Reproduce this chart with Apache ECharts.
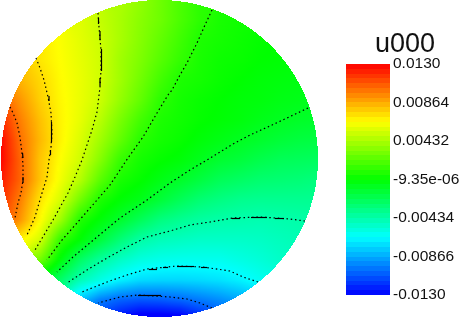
<!DOCTYPE html>
<html>
<head>
<meta charset="utf-8">
<style>html,body{margin:0;padding:0;background:#fff}#c{width:461px;height:317px}</style>
<script src="https://cdn.jsdelivr.net/npm/echarts@6/dist/echarts.min.js"></script>
</head>
<body>
<div id="c"></div>
<script>
// --- data -------------------------------------------------------------
const titleText = 'u000';
const tickValues = [0.013, 0.00864, 0.00432, -0.00000935, -0.00434, -0.00866, -0.013];
const tickLabels = ['0.0130', '0.00864', '0.00432', '-9.35e-06', '-0.00434', '-0.00866', '-0.0130'];
const colorStops = [[0, 0, 255], [0, 255, 255], [0, 255, 0], [255, 255, 0], [255, 0, 0]];
const bandCount = 48;

// field u000 in units of 1e-4, sampled on these picture coordinates
const fieldUnit = 1e-4;
const fieldX = [0, 20, 40, 60, 80, 100, 120, 140, 160, 180, 200, 220, 240, 260, 280, 300, 320];
const fieldY = [0, 20, 40, 60, 80, 100, 120, 140, 160, 180, 200, 220, 240, 260, 280, 300, 320];
const n = null;
const fieldRows = [
  [n, n, n, n, n, n, 44, 37, 28, 19, 11, n, n, n, n, n, n],
  [n, n, n, n, 57, 50, 43, 35, 28, 19, 11, 6, 4, n, n, n, n],
  [n, n, 71, 64, 58, 52, 43, 34, 25, 16, 7, 5, 3, 1, 0, n, n],
  [n, 80, 71, 65, 59, 53, 41, 32, 22, 13, 6, 3, 2, 0, -1, -2, n],
  [n, 84, 75, 66, 60, 53, 41, 29, 17, 7, 5, 2, 0, -2, -3, -4, n],
  [108, 92, 77, 67, 60, 52, 38, 25, 11, 5, 2, 0, -2, -3, -5, -6, -8],
  [122, 98, 81, 68, 59, 47, 31, 17, 7, 4, 1, -1, -3, -6, -8, -10, -11],
  [130, 102, 83, 68, 56, 41, 25, 10, 5, 2, -2, -5, -8, -11, -14, -16, -17],
  [130, 105, 80, 65, 53, 34, 14, 5, 1, -2, -7, -12, -15, -19, -22, -23, -24],
  [125, 105, 80, 62, 46, 23, 6, 1, -5, -10, -16, -22, -25, -28, -29, -30, -32],
  [120, 98, 72, 55, 29, 7, -1, -6, -14, -22, -29, -33, -36, -37, -37, -37, -37],
  [115, 92, 66, 41, 8, -2, -11, -22, -32, -37, -41, -43, -44, -45, -44, -43, -42],
  [n, 68, 54, 13, -1, -15, -30, -42, -47, -49, -51, -51, -51, -50, -48, -46, n],
  [n, n, 29, -2, -25, -40, -50, -57, -60, -61, -61, -61, -58, -55, -51, n, n],
  [n, n, -8, -26, -46, -58, -68, -74, -75, -75, -74, -72, -68, -62, -58, n, n],
  [n, n, n, n, -80, -98, -105, -108, -107, -104, -99, -94, -88, -80, n, n, n],
  [n, n, n, n, n, -115, -130, -140, -140, -138, -125, -112, n, n, n, n, n]
];

// contour lines, picture coordinates
const contour1 = [[10,107],[13,113],[17,123],[20,137],[22,153],[23,165],[23,180],[21,193],[18,203],[15,218]];
const contour2 = [[36,58],[40,68],[44,80],[48,97],[51,113],[52,133],[51,147],[49,160],[47,177],[42,193],[35,217],[27,235]];
const contour3 = [[98,13],[99,27],[101,50],[101,70],[100,87],[97,112],[92,130],[82,160],[75,177],[68,193],[53,220],[35,250]];
const contour4 = [[212,10],[205,25],[197,43],[187,63],[180,75],[172,90],[168,95],[157,113],[143,137],[128,158],[110,185],[97,200],[77,223],[62,240],[47,260]];
const contour5 = [[308,108],[287,118],[270,126],[250,135],[233,144],[207,160],[190,170],[170,183],[147,200],[120,218],[97,237],[73,257],[57,272]];
const contour6 = [[305,221],[290,219],[260,217],[233,218],[210,222],[190,225],[170,231],[147,237],[127,247],[107,258],[87,270],[67,283]];
const contour7 = [[258,282],[243,277],[230,271],[203,267],[177,266],[147,269],[127,275],[107,282],[82,292]];
const contour8 = [[212,308],[200,303],[187,299],[170,297],[138,295],[120,297],[98,303]];
const contours = [contour1, contour2, contour3, contour4, contour5, contour6, contour7, contour8];
// the longer strokes of the dashed contours, where they run along an axis
const contourStrokes = [
  [[22.5,153],[23,158]], [[23,177],[23,183]],
  [[49,96],[49,101]], [[51.5,122],[51.5,142]], [[50.5,150],[50.5,155]],
  [[98.5,18],[98.5,24]], [[100,31],[100,40]], [[101.5,49],[101.5,71]], [[100,78],[100,86]],
  [[232,218.5],[240,218.5]], [[251,217.5],[267,217.5]], [[275,218.5],[284,218.5]],
  [[177,266.5],[194,266.5]], [[201,267.5],[207,267.5]], [[149,269.5],[157,269.5]], [[163,267.5],[168,267.5]],
  [[138,295.5],[161,295.5]]
];

// --- rendering --------------------------------------------------------
const vMax = 0.013;
const diskCx = 159.5, diskCy = 158.5, diskR = 158.5;

function colorOf(v) {
  const t = Math.max(0, Math.min(1, (v + vMax) / (2 * vMax))) * (colorStops.length - 1);
  const i = Math.min(colorStops.length - 2, Math.floor(t));
  const f = t - i, a = colorStops[i], b = colorStops[i + 1];
  return 'rgb(' + [0, 1, 2].map(k => Math.round(a[k] + (b[k] - a[k]) * f)).join(',') + ')';
}
function shade(x, y) {
  const dx = fieldX[1] - fieldX[0], dy = fieldY[1] - fieldY[0];
  const i = Math.max(0, Math.min(fieldX.length - 2, Math.floor((x - fieldX[0]) / dx)));
  const j = Math.max(0, Math.min(fieldY.length - 2, Math.floor((y - fieldY[0]) / dy)));
  const fx = (x - fieldX[i]) / dx, fy = (y - fieldY[j]) / dy;
  const corners = [[fieldRows[j][i], (1 - fx) * (1 - fy)], [fieldRows[j][i + 1], fx * (1 - fy)],
                   [fieldRows[j + 1][i], (1 - fx) * fy], [fieldRows[j + 1][i + 1], fx * fy]];
  let s = 0, w = 0;
  corners.forEach(c => { if (c[0] !== null) { s += c[0] * c[1]; w += c[1]; } });
  if (w > 0) return (s / w) * fieldUnit;
  return null;
}
function renderFieldRow(params, api) {
  const y0 = api.value(0), step = fieldY[1] - fieldY[0];
  const children = [];
  for (let y = y0; y < y0 + step; y++) {
    const yc = y + 0.5, d = yc - diskCy;
    if (Math.abs(d) >= diskR) continue;
    const half = Math.sqrt(diskR * diskR - d * d);
    const xa = Math.round(diskCx - half), xb = Math.round(diskCx + half);
    if (xb <= xa) continue;
    const stops = [];
    for (let x = xa; x <= xb; x += 3) {
      const v = shade(x, yc);
      if (v !== null) stops.push({ offset: (x - xa) / (xb - xa), color: colorOf(v) });
    }
    if (!stops.length) continue;
    const p0 = api.coord([xa, y]), p1 = api.coord([xb, y + 1]);
    children.push({
      type: 'rect',
      shape: { x: p0[0], y: p0[1], width: p1[0] - p0[0], height: p1[1] - p0[1] },
      style: { fill: new echarts.graphic.LinearGradient(p0[0], 0, p1[0], 0, stops, true) },
      silent: true
    });
  }
  return { type: 'group', children: children };
}
function renderBand(params, api) {
  const a = api.value(0), b = api.value(1);
  const p0 = api.coord([0, b]), p1 = api.coord([1, a]);
  const top = Math.round(p0[1]), bottom = Math.round(p1[1]);
  return { type: 'rect', shape: { x: p0[0], y: top, width: p1[0] - p0[0], height: bottom - top },
           style: { fill: colorOf((a + b) / 2) }, silent: true };
}

const bands = [];
for (let i = 0; i < bandCount; i++) {
  bands.push([-vMax + 2 * vMax * i / bandCount, -vMax + 2 * vMax * (i + 1) / bandCount]);
}
const lineBase = { type: 'line', xAxisIndex: 0, yAxisIndex: 0, symbol: 'none', silent: true, animation: false, z: 5 };

const chart = echarts.init(document.getElementById('c'), null, { renderer: 'canvas' });
chart.setOption({
  animation: false,
  backgroundColor: '#fff',
  title: { text: titleText, left: 375, top: 31, padding: 0,
           textStyle: { fontFamily: 'Liberation Sans', fontWeight: 'normal', fontSize: 27, color: '#111' } },
  grid: [
    { left: 0, top: 0, width: 320, height: 317, outerBoundsMode: 'none' },
    { left: 346, top: 64, width: 44, height: 231, outerBoundsMode: 'none' }
  ],
  xAxis: [
    { type: 'value', min: 0, max: 320, show: false },
    { type: 'value', gridIndex: 1, min: 0, max: 1, show: false }
  ],
  yAxis: [
    { type: 'value', min: 0, max: 317, inverse: true, show: false },
    { type: 'value', gridIndex: 1, min: -vMax, max: vMax, position: 'right',
      splitLine: { show: false }, axisLine: { show: false }, axisTick: { show: false },
      axisLabel: { customValues: tickValues, margin: 3, hideOverlap: false,
        fontFamily: 'Liberation Sans', fontSize: 15.5, color: '#111',
        formatter: v => tickLabels[tickValues.indexOf(v)] } }
  ],
  series: [
    { type: 'custom', name: 'u000', xAxisIndex: 0, yAxisIndex: 0, clip: false, silent: true,
      data: fieldY.slice(0, -1).map(y => [y]), renderItem: renderFieldRow, encode: { y: 0 }, z: 1 },
    { type: 'custom', name: 'colour bar', xAxisIndex: 1, yAxisIndex: 1, silent: true,
      data: bands, renderItem: renderBand, encode: { y: [0, 1] }, z: 1 }
  ].concat(contours.map(c => Object.assign({}, lineBase, {
      data: c, lineStyle: { color: '#000', width: 1.2, type: [1.5, 2.8] }
    })), contourStrokes.map(c => Object.assign({}, lineBase, {
      data: c, lineStyle: { color: '#000', width: 1.2 }
    })))
});
</script>
</body>
</html>
